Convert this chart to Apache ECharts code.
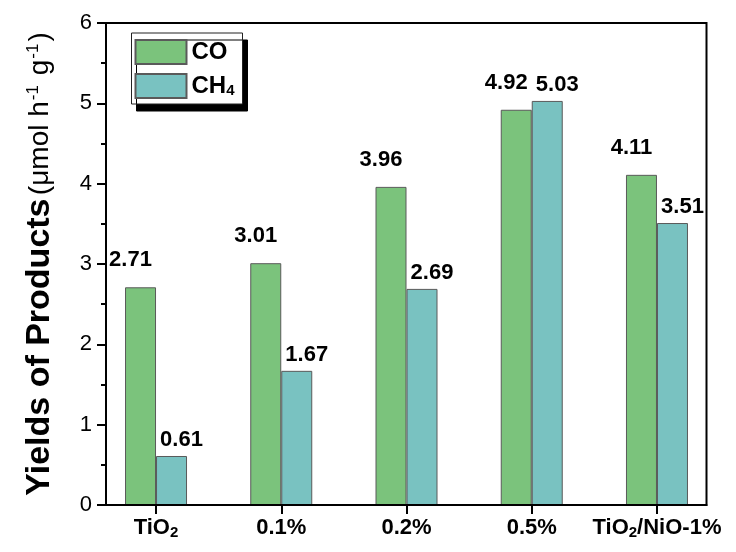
<!DOCTYPE html>
<html>
<head>
<meta charset="utf-8">
<script src="https://cdn.jsdelivr.net/npm/echarts@6/dist/echarts.min.js"></script>
<style>
  html, body { margin: 0; padding: 0; background: #ffffff; }
  #chart { width: 736px; height: 552px; }
</style>
</head>
<body>
<div id="chart"></div>
<script>
// Sample names along the x axis
const categories = ['TiO2', '0.1%', '0.2%', '0.5%', 'TiO2/NiO-1%'];
// Product yields, µmol h-1 g-1
const coYield = [2.71, 3.01, 3.96, 4.92, 4.11];
const ch4Yield = [0.61, 1.67, 2.69, 5.03, 3.51];
// Value axis ticks
const yTicks = [0, 1, 2, 3, 4, 5, 6];

const FONT = '"Liberation Sans", Arial, Helvetica, sans-serif';
const GREEN = '#7bc37c';
const TEAL = '#79c2c1';
const EDGE = '#5a5a5a';

// Turn "O2" / "H4" style formulas into rich text with a lowered digit
function subscript(text) {
  return '{t|' + text.replace(/([A-Za-z])(\d)(?![\d.%])/g, '$1}{s|$2}{t|') + '}';
}

const chart = echarts.init(document.getElementById('chart'), null, { renderer: 'canvas' });

chart.setOption({
  animation: false,
  backgroundColor: '#ffffff',
  textStyle: { fontFamily: FONT },
  grid: [
    // framed plotting area with the value scale
    { left: 106, right: 29.5, top: 23, bottom: 47, show: true, borderColor: '#000', borderWidth: 2, backgroundColor: 'transparent' },
    // category band layout for the bars
    { left: 93.4, right: 16.4, top: 23, bottom: 47 }
  ],
  legend: {
    orient: 'vertical',
    left: 131.5,
    top: 33,
    padding: [6, 8, 5, 3],
    itemGap: 6,
    itemWidth: 51,
    itemHeight: 24,
    icon: 'rect',
    backgroundColor: '#ffffff',
    borderColor: '#222',
    borderWidth: 1,
    shadowColor: '#000',
    shadowBlur: 0,
    shadowOffsetX: 5,
    shadowOffsetY: 7,
    formatter: name => subscript(name),
    textStyle: {
      rich: {
        t: { fontFamily: FONT, fontSize: 24, fontWeight: 'bold', color: '#000', lineHeight: 24 },
        s: { fontFamily: FONT, fontSize: 15, fontWeight: 'bold', color: '#000', lineHeight: 12, padding: [12, 0, 0, 0], verticalAlign: 'bottom' }
      }
    },
    data: ['CO', 'CH4']
  },
  xAxis: [
    {
      gridIndex: 0, type: 'value', min: 0, max: 1, z: 10,
      axisLine: { show: true, lineStyle: { color: '#000', width: 2 } },
      axisTick: { show: false }, axisLabel: { show: false }, splitLine: { show: false }
    },
    {
      gridIndex: 1, type: 'category', data: categories,
      axisLine: { show: false },
      axisTick: { show: true, alignWithLabel: true, length: 9, lineStyle: { color: '#000', width: 2 } },
      axisLabel: {
        interval: 0,
        margin: 11,
        formatter: v => subscript(v),
        rich: {
          t: { fontFamily: FONT, fontSize: 22, fontWeight: 'bold', color: '#000', lineHeight: 24 },
          s: { fontFamily: FONT, fontSize: 15, fontWeight: 'bold', color: '#000', lineHeight: 14, padding: [14, 0, 0, 0], verticalAlign: 'bottom' }
        }
      },
      splitLine: { show: false }
    }
  ],
  yAxis: [
    {
      gridIndex: 0, type: 'value', min: yTicks[0], max: yTicks[yTicks.length - 1], interval: 1, z: 10,
      axisLine: { show: true, lineStyle: { color: '#000', width: 2 } },
      axisTick: { show: true, inside: false, length: 9, lineStyle: { color: '#000', width: 2 } },
      minorTick: { show: true, splitNumber: 2, length: 5, lineStyle: { color: '#000', width: 2 } },
      axisLabel: { margin: 14, fontFamily: FONT, fontSize: 22, color: '#000' },
      splitLine: { show: false },
      name: '{b|Yields of Products} {r|(μmol h}{p|-1}{r| g}{p|-1}{r|)}',
      nameLocation: 'middle',
      nameGap: 48,
      nameRotate: 90,
      nameTextStyle: {
        rich: {
          b: { fontFamily: FONT, fontSize: 34, fontWeight: 'bold', color: '#000', lineHeight: 36 },
          r: { fontFamily: FONT, fontSize: 28, color: '#000', lineHeight: 36 },
          p: { fontFamily: FONT, fontSize: 17, color: '#000', lineHeight: 17, verticalAlign: 'top', padding: [3, 2, 0, 1] }
        }
      }
    },
    {
      gridIndex: 1, type: 'value', min: yTicks[0], max: yTicks[yTicks.length - 1], show: false
    }
  ],
  series: [
    {
      name: 'CO', type: 'bar', xAxisIndex: 1, yAxisIndex: 1,
      data: coYield, barWidth: 31, barGap: '0%',
      itemStyle: { color: GREEN, borderColor: EDGE, borderWidth: 1 },
      label: {
        show: true, position: 'top', distance: 16, offset: [-10, 0],
        fontFamily: FONT, fontSize: 22, fontWeight: 'bold', color: '#000'
      }
    },
    {
      name: 'CH4', type: 'bar', xAxisIndex: 1, yAxisIndex: 1,
      data: ch4Yield, barWidth: 31, barGap: '0%',
      itemStyle: { color: TEAL, borderColor: EDGE, borderWidth: 1 },
      label: {
        show: true, position: 'top', distance: 5, offset: [10, 0],
        fontFamily: FONT, fontSize: 22, fontWeight: 'bold', color: '#000'
      }
    }
  ]
});
</script>
</body>
</html>
